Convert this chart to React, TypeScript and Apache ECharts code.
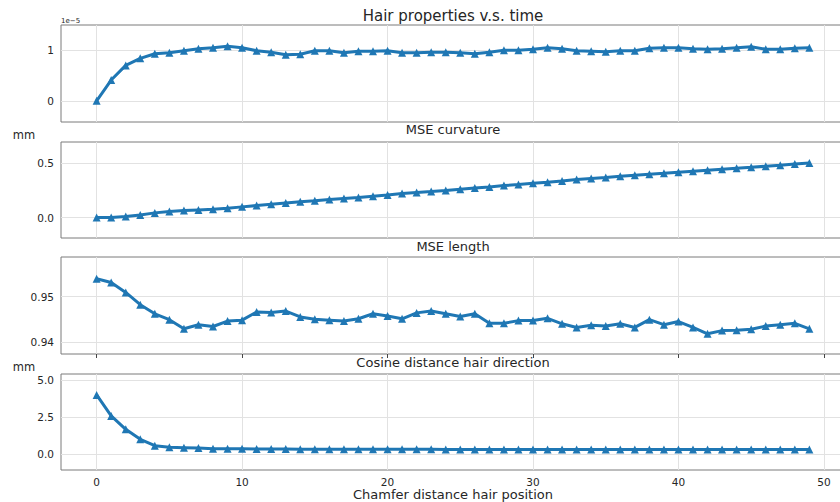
import React, { useEffect, useRef } from "react";
import * as echarts from "echarts";

// x positions (hair position index)
const positions: number[] = Array.from({ length: 50 }, (_, i) => i);

// Panel 1: values in units of 1e-5
const timeVals: number[] = [
  0.0, 0.41, 0.7, 0.84, 0.93, 0.95, 0.99, 1.03, 1.05, 1.08,
  1.05, 0.99, 0.96, 0.91, 0.92, 0.99, 0.99, 0.95, 0.98, 0.98,
  0.99, 0.95, 0.95, 0.96, 0.96, 0.95, 0.93, 0.96, 1.0, 1.0,
  1.02, 1.05, 1.03, 0.99, 0.98, 0.97, 0.99, 0.99, 1.04, 1.05,
  1.05, 1.03, 1.02, 1.03, 1.05, 1.07, 1.02, 1.02, 1.04, 1.05,
];

// Panel 2: MSE curvature (mm)
const curvatureVals: number[] = [
  0.0, 0.0, 0.009, 0.024, 0.043, 0.055, 0.064, 0.07, 0.076, 0.085,
  0.098, 0.11, 0.122, 0.134, 0.146, 0.155, 0.165, 0.174, 0.183, 0.195,
  0.207, 0.22, 0.23, 0.238, 0.247, 0.259, 0.271, 0.28, 0.293, 0.302,
  0.314, 0.323, 0.335, 0.348, 0.357, 0.366, 0.378, 0.387, 0.396, 0.405,
  0.415, 0.424, 0.433, 0.442, 0.451, 0.46, 0.47, 0.479, 0.491, 0.5,
];

// Panel 3: MSE length
const lengthVals: number[] = [
  0.9539, 0.9531, 0.9509, 0.9482, 0.9462, 0.9449, 0.9429, 0.9438, 0.9434, 0.9446,
  0.9448, 0.9466, 0.9465, 0.9468, 0.9455, 0.945, 0.9448, 0.9446, 0.9451, 0.9462,
  0.9457, 0.9451, 0.9464, 0.9468, 0.9462, 0.9456, 0.9462, 0.9441, 0.9441, 0.9447,
  0.9447, 0.9452, 0.944, 0.9432, 0.9437, 0.9435, 0.944, 0.9432, 0.9449, 0.9438,
  0.9445, 0.9432, 0.9418, 0.9425, 0.9426, 0.9428, 0.9435, 0.9438, 0.9441, 0.9429,
];

// Panel 4: cosine distance hair direction (mm)
const cosineVals: number[] = [
  3.99, 2.57, 1.67, 0.99, 0.56, 0.45, 0.43, 0.4, 0.36, 0.35,
  0.35, 0.34, 0.34, 0.34, 0.33, 0.33, 0.33, 0.33, 0.32, 0.33,
  0.32, 0.32, 0.32, 0.32, 0.31, 0.31, 0.31, 0.31, 0.31, 0.3,
  0.31, 0.3, 0.3, 0.3, 0.31, 0.3, 0.3, 0.31, 0.3, 0.3,
  0.3, 0.3, 0.3, 0.3, 0.3, 0.3, 0.3, 0.3, 0.3, 0.3,
];

const xTicks: number[] = [0, 10, 20, 30, 40, 50];
const yTicks: number[][] = [[0, 1], [0, 0.5], [0.94, 0.95], [0, 2.5, 5]];
const yDecimals: number[] = [0, 1, 2, 1];
const yRanges: number[][] = [[-0.42, 1.5], [-0.187, 0.692], [0.93735, 0.9587], [-1.08, 5.405]];
const seriesData: number[][] = [timeVals, curvatureVals, lengthVals, cosineVals];

const figTitle = "Hair properties v.s. time";
const subTitles: string[] = ["MSE curvature", "MSE length", "Cosine distance hair direction"];
const xLabel = "Chamfer distance hair position";
const unitLabel = "mm";
const offsetLabel = "1e\u22125";

const FONT = "DejaVu Sans";
const TEXT = "#262626";
const BLUE = "#1f77b4";

const gridTops = [25, 142, 257, 374];
const gridHeights = [97, 96, 97, 96];

export default function App() {
  const ref = useRef<HTMLDivElement>(null);
  useEffect(() => {
    if (!ref.current) return;
    const chart = echarts.init(ref.current, undefined, { renderer: "svg" });
    const grids = gridTops.map((t, i) => ({
      left: 61,
      right: 2,
      top: t,
      height: gridHeights[i],
      show: true,
      borderColor: "#7a7a7a",
      borderWidth: 1,
      backgroundColor: "transparent",
    }));
    const xAxes = gridTops.map((_, i) => ({
      type: "value",
      gridIndex: i,
      min: -2.45,
      max: 51.45,
      splitLine: { show: false },
      axisLine: { show: false },
      axisTick: { show: true, customValues: xTicks, length: 4, lineStyle: { color: "#444" } },
      axisLabel: {
        show: i === 3,
        customValues: xTicks,
        margin: 6,
        fontSize: 10.5,
        fontFamily: FONT,
        color: TEXT,
        formatter: (v: number) => String(v),
      },
    }));
    const yAxes = gridTops.map((_, i) => ({
      type: "value",
      gridIndex: i,
      min: yRanges[i][0],
      max: yRanges[i][1],
      splitLine: { show: false },
      axisLine: { show: false },
      axisTick: { show: true, customValues: yTicks[i], length: 4, lineStyle: { color: "#444" } },
      axisLabel: {
        customValues: yTicks[i],
        margin: 7,
        fontSize: 10.5,
        fontFamily: FONT,
        color: TEXT,
        formatter: (v: number) => v.toFixed(yDecimals[i]),
      },
    }));
    const gridLineSeries = gridTops.map((_, i) => ({
      type: "line",
      xAxisIndex: i,
      yAxisIndex: i,
      data: [],
      z: 1,
      silent: true,
      markLine: {
        silent: true,
        symbol: "none",
        label: { show: false },
        lineStyle: { color: "#e2e2e2", type: "solid", width: 1 },
        data: [
          ...xTicks.map((v) => ({ xAxis: v })),
          ...yTicks[i].map((v) => ({ yAxis: v })),
        ],
      },
    }));
    const dataSeries = seriesData.map((vals, i) => ({
      type: "line",
      xAxisIndex: i,
      yAxisIndex: i,
      z: 5,
      data: vals.map((v, j) => [positions[j], v]),
      symbol: "triangle",
      symbolSize: 8,
      showSymbol: true,
      lineStyle: { color: BLUE, width: 3 },
      itemStyle: { color: BLUE },
    }));
    const textStyle = (size: number) => ({ fill: TEXT, fontFamily: FONT, fontSize: size });
    chart.setOption({
      animation: false,
      backgroundColor: "#ffffff",
      grid: grids,
      xAxis: xAxes,
      yAxis: yAxes,
      series: [...gridLineSeries, ...dataSeries],
      graphic: [
        { type: "text", x: 453, y: 16, style: { ...textStyle(15), text: figTitle, align: "center", verticalAlign: "middle" } },
        { type: "text", x: 453, y: 129, style: { ...textStyle(13), text: subTitles[0], align: "center", verticalAlign: "middle" } },
        { type: "text", x: 453, y: 246, style: { ...textStyle(13), text: subTitles[1], align: "center", verticalAlign: "middle" } },
        { type: "text", x: 453, y: 362, style: { ...textStyle(13), text: subTitles[2], align: "center", verticalAlign: "middle" } },
        { type: "text", x: 453, y: 494, style: { ...textStyle(13), text: xLabel, align: "center", verticalAlign: "middle" } },
        { type: "text", x: 24, y: 135, style: { ...textStyle(11.5), text: unitLabel, align: "center", verticalAlign: "middle" } },
        { type: "text", x: 24, y: 367, style: { ...textStyle(11.5), text: unitLabel, align: "center", verticalAlign: "middle" } },
        { type: "text", x: 61, y: 21, style: { ...textStyle(7), text: offsetLabel, align: "left", verticalAlign: "middle" } },
      ],
    });
    return () => chart.dispose();
  }, []);
  return (
    <div
      style={{ position: "absolute", left: 0, top: 0, width: 840, height: 502, overflow: "hidden", background: "#fff" }}
    >
      <div ref={ref} style={{ position: "absolute", left: 0, top: 0, width: 847, height: 502 }} />
    </div>
  );
}
